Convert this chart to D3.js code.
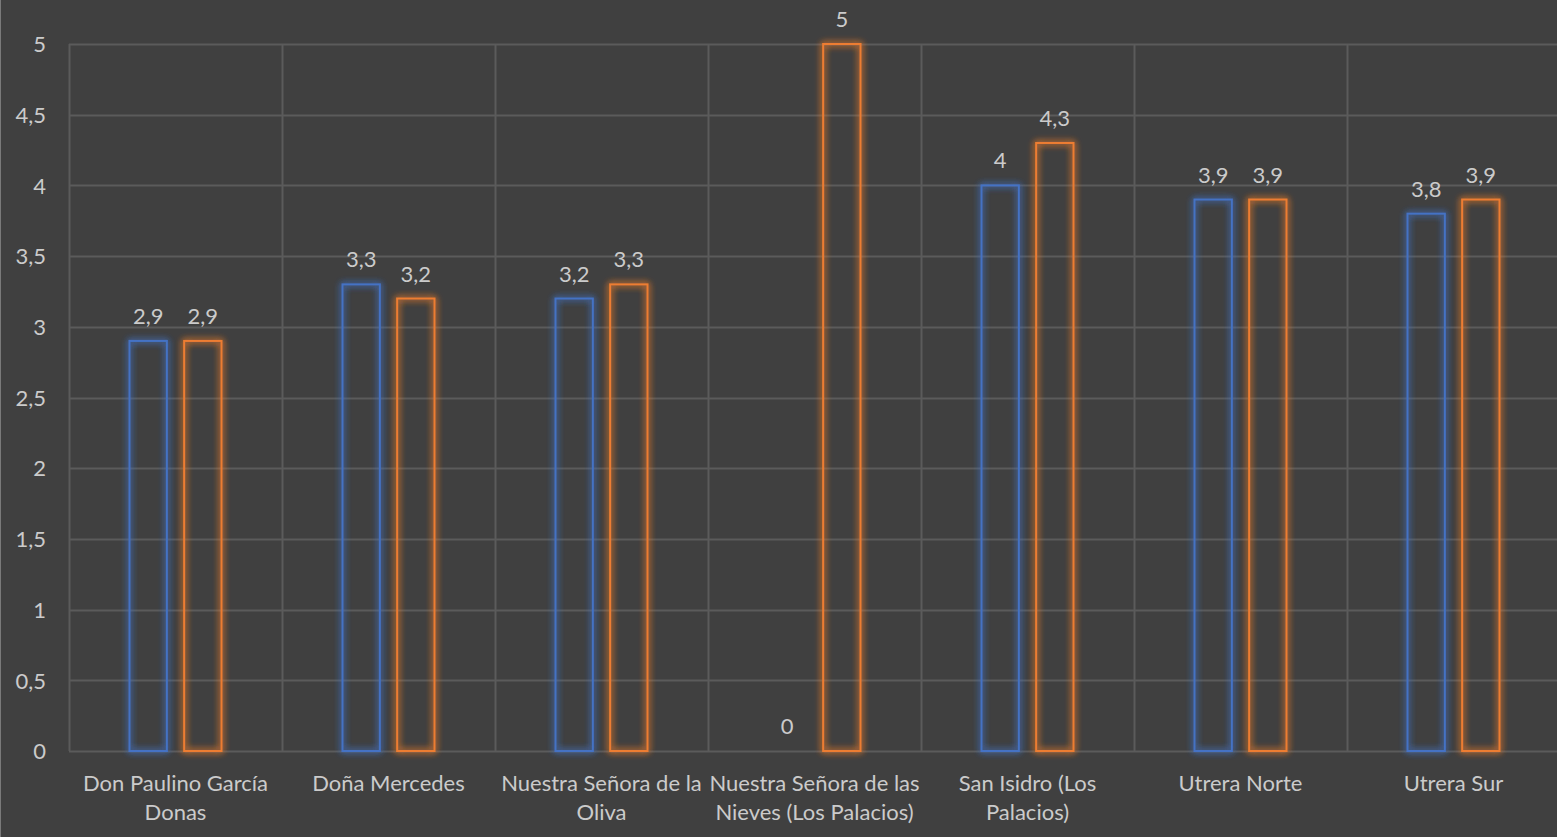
<!DOCTYPE html>
<html>
<head>
<meta charset="utf-8">
<script src="https://cdn.jsdelivr.net/npm/d3@7"></script>
<style>
html,body{margin:0;padding:0;background:#404040;}
svg{display:block;}
</style>
</head>
<body>
<svg id="chart" width="1557" height="837"></svg>
<script>
const categories = ["Don Paulino García\nDonas", "Doña Mercedes", "Nuestra Señora de la\nOliva", "Nuestra Señora de las\nNieves (Los Palacios)", "San Isidro (Los\nPalacios)", "Utrera Norte", "Utrera Sur"];
const seriesNames = ["Serie 1", "Serie 2"];
const series1 = [2.9, 3.3, 3.2, 0, 4.0, 3.9, 3.8];
const series2 = [2.9, 3.2, 3.3, 5, 4.3, 3.9, 3.9];
const yTicks = [0, 0.5, 1, 1.5, 2, 2.5, 3, 3.5, 4, 4.5, 5];
const colors = ["#4472C4", "#ED7D31"];

const W = 1557, H = 837;
const m = {left: 69, right: -3, top: 44, bottom: 85};
const svg = d3.select("#chart");
svg.append("rect").attr("width", W).attr("height", H).attr("fill", "#404040");
svg.append("line").attr("x1", 0.5).attr("x2", 0.5).attr("y1", 0).attr("y2", H).attr("stroke", "#7a7a7a").attr("stroke-width", 1);

const defs = svg.append("defs");
colors.forEach((c, i) => {
  const f = defs.append("filter").attr("id", "glow" + i).attr("x", "-50%").attr("y", "-50%").attr("width", "200%").attr("height", "200%");
  f.append("feGaussianBlur").attr("in", "SourceGraphic").attr("stdDeviation", 3.5).attr("result", "b");
  const mg = f.append("feMerge");
  mg.append("feMergeNode").attr("in", "b");
  mg.append("feMergeNode").attr("in", "b");
  mg.append("feMergeNode").attr("in", "SourceGraphic");
});

const x0 = d3.scaleBand().domain(categories).range([m.left, W - m.right]).paddingInner(0).paddingOuter(0);
const x1 = d3.scaleBand().domain(seriesNames).range([x0.bandwidth()/2 - 47, x0.bandwidth()/2 + 47]).paddingInner(0.28).paddingOuter(0);
const y = d3.scaleLinear().domain([0, 5]).range([H - m.bottom - 1, m.top]);

const font = "Lato, 'Open Sans', sans-serif";
const textColor = "#cbcbcb";
const gridColor = "#5b5b5b";
const fs = "22px";

// horizontal gridlines
svg.append("g").selectAll("line").data(yTicks).join("line")
  .attr("x1", m.left).attr("x2", W)
  .attr("y1", d => Math.round(y(d)) + 0.5).attr("y2", d => Math.round(y(d)) + 0.5)
  .attr("stroke", gridColor).attr("stroke-width", 2);

// vertical gridlines
const bounds = categories.map(c => x0(c));
svg.append("g").selectAll("line").data(bounds).join("line")
  .attr("x1", d => Math.round(d) + 0.5).attr("x2", d => Math.round(d) + 0.5)
  .attr("y1", y(5)).attr("y2", y(0))
  .attr("stroke", gridColor).attr("stroke-width", 2);

// y axis labels
const yAxis = d3.axisLeft(y).tickValues(yTicks).tickSize(0).tickPadding(0)
  .tickFormat(d => String(d).replace(".", ","));
const ga = svg.append("g").attr("transform", `translate(${46},0)`).call(yAxis);
ga.select(".domain").remove();
ga.selectAll("text").attr("fill", textColor).style("font-family", font).style("font-size", fs).attr("dy", "0.35em");

// bars
const data = categories.map((c, i) => ({c, vals: [series1[i], series2[i]]}));
const groups = svg.append("g").selectAll("g").data(data).join("g")
  .attr("transform", d => `translate(${x0(d.c)},0)`);
groups.selectAll("rect").data(d => d.vals.map((v, j) => ({v, j}))).join("rect")
  .filter(d => d.v > 0)
  .attr("x", d => x1(seriesNames[d.j]) + 1)
  .attr("y", d => y(d.v))
  .attr("width", x1.bandwidth() - 2)
  .attr("height", d => y(0) - y(d.v))
  .attr("fill", "none")
  .attr("stroke", d => colors[d.j])
  .attr("stroke-width", 2)
  .attr("filter", d => `url(#glow${d.j})`);

// value labels
groups.selectAll("text.val").data(d => d.vals.map((v, j) => ({v, j}))).join("text")
  .attr("class", "val")
  .attr("x", d => x1(seriesNames[d.j]) + x1.bandwidth()/2)
  .attr("y", d => y(d.v) - 17)
  .attr("text-anchor", "middle")
  .attr("fill", textColor)
  .style("font-family", font).style("font-size", fs)
  .text(d => String(d.v).replace(".", ","));

// category labels
const cl = svg.append("g").selectAll("text").data(categories).join("text")
  .attr("x", d => x0(d) + x0.bandwidth()/2)
  .attr("y", 791)
  .attr("text-anchor", "middle")
  .attr("fill", textColor)
  .style("font-family", font).style("font-size", fs);
cl.selectAll("tspan").data(d => d.split("\n")).join("tspan")
  .attr("x", function(){ const p = d3.select(this.parentNode).datum(); return x0(p) + x0.bandwidth()/2; })
  .attr("dy", (d, i) => i === 0 ? 0 : 29)
  .text(d => d);
</script>
</body>
</html>
